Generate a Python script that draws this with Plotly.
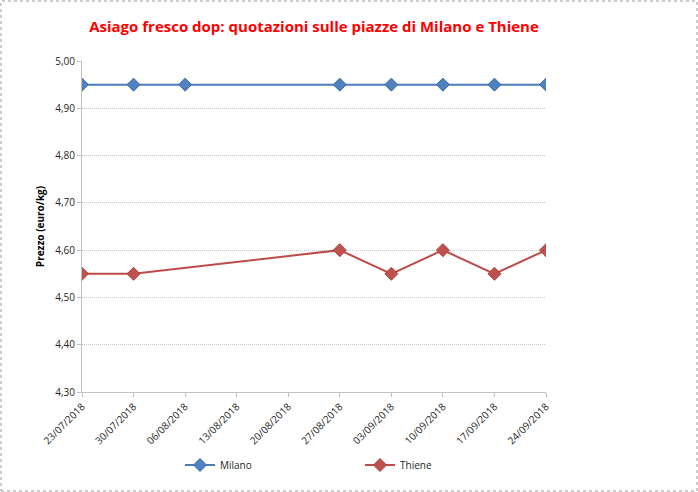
import plotly.graph_objects as go

dates = ["2018-07-23", "2018-07-30", "2018-08-06", "2018-08-13", "2018-08-20",
         "2018-08-27", "2018-09-03", "2018-09-10", "2018-09-17", "2018-09-24"]
tick_labels = ["23/07/2018", "30/07/2018", "06/08/2018", "13/08/2018", "20/08/2018",
               "27/08/2018", "03/09/2018", "10/09/2018", "17/09/2018", "24/09/2018"]
milano = [4.95, 4.95, 4.95, None, None, 4.95, 4.95, 4.95, 4.95, 4.95]
thiene = [4.55, 4.55, None, None, None, 4.60, 4.55, 4.60, 4.55, 4.60]

W, H = 698, 492
ml, mr, mt, mb = 82, 152, 61, 100
pw, ph = W - ml - mr, H - mt - mb

fig = go.Figure()
fig.add_trace(go.Scatter(
    x=dates, y=milano, name="Milano", mode="lines+markers", connectgaps=True,
    line=dict(color="#4A7EBB", width=2),
    marker=dict(symbol="diamond", size=10, color="#4F81BD", line=dict(color="#3A6BA8", width=1)),
))
fig.add_trace(go.Scatter(
    x=dates, y=thiene, name="Thiene", mode="lines+markers", connectgaps=True,
    line=dict(color="#BE4B48", width=2),
    marker=dict(symbol="diamond", size=10, color="#C0504D", line=dict(color="#A8403D", width=1)),
))

# dashed chart-area border
fig.add_shape(type="rect", xref="paper", yref="paper",
              x0=-(ml - 1) / pw, x1=1 + (mr - 1) / pw,
              y0=-(mb - 1) / ph, y1=1 + (mt - 1) / ph,
              line=dict(color="#9A9A9A", width=1, dash="dot"), layer="below")

fig.update_layout(
    width=W, height=H,
    margin=dict(l=ml, r=mr, t=mt, b=mb),
    paper_bgcolor="white", plot_bgcolor="white",
    separators=",.",
    font=dict(family="Open Sans, DejaVu Sans, sans-serif", size=10, color="#404040"),
    title=dict(text="<b>Asiago fresco dop: quotazioni sulle piazze di Milano e Thiene</b>",
               font=dict(family="Open Sans, sans-serif", size=15, color="#FF0000"),
               x=(ml + pw / 2) / W, xanchor="center", y=1 - 27 / H, yanchor="middle"),
    xaxis=dict(
        type="date", range=["2018-07-23", "2018-09-24"],
        tickvals=dates, ticktext=tick_labels, tickangle=-45,
        showgrid=False, showline=True, linecolor="#BFBFBF", linewidth=1,
        ticks="outside", ticklen=4, tickcolor="#BFBFBF",
        tickfont=dict(size=10, color="#262626"),
    ),
    yaxis=dict(
        range=[4.30, 5.00], dtick=0.10, tick0=4.30, tickformat=".2f",
        showgrid=True, gridcolor="#C8C8C8", griddash="1px,1px", gridwidth=1,
        showline=True, linecolor="#BFBFBF", linewidth=1,
        ticks="outside", ticklen=4, tickcolor="#BFBFBF",
        tickfont=dict(size=10, color="#262626"),
        title=dict(text="<b>Prezzo (euro/kg)</b>", font=dict(size=10, color="#000000"), standoff=8),
        zeroline=False,
    ),
    legend=dict(orientation="h", x=(180 - ml) / pw, xanchor="left",
                y=-(465 - mt - ph) / ph, yanchor="middle",
                entrywidth=135, entrywidthmode="pixels",
                font=dict(size=10, color="#262626")),
)

fig.write_html("out.html", config={"displayModeBar": False},
               post_script="document.body.style.margin='0';")
